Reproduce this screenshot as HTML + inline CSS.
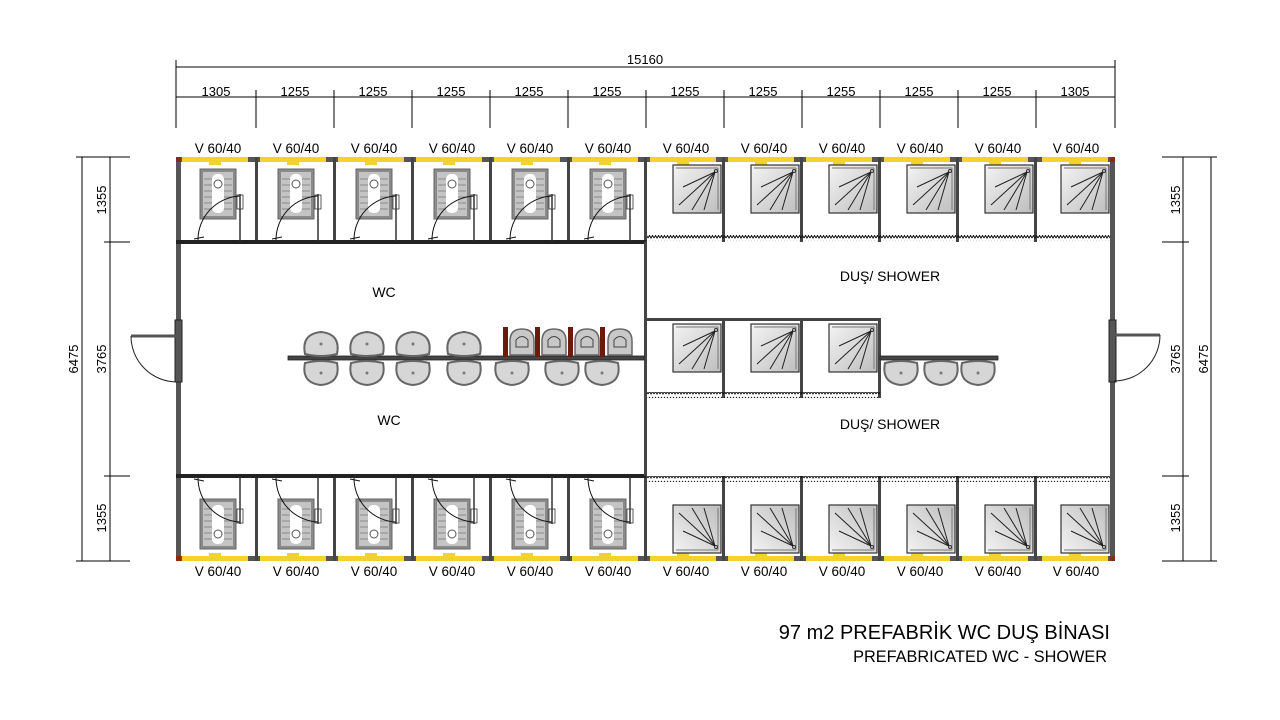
<!DOCTYPE html>
<html><head><meta charset="utf-8"><style>
html,body{margin:0;padding:0;background:#fff;}
svg{display:block;font-family:"Liberation Sans",sans-serif;}
</style></head><body>
<svg width="1280" height="720" viewBox="0 0 1280 720" xmlns="http://www.w3.org/2000/svg">
<defs>
<linearGradient id="sg" x1="0" y1="0" x2="1" y2="1"><stop offset="0" stop-color="#f4f4f4"/><stop offset="1" stop-color="#bdbdbd"/></linearGradient>
<pattern id="wv" width="6" height="6" patternUnits="userSpaceOnUse"><path d="M0 4 L1.5 1.5 L3 4 L4.5 1.5 L6 4" fill="none" stroke="#111" stroke-width="1"/></pattern>
<g id="win"><rect x="6" y="0" width="66" height="5" fill="#f2d22e"/><rect x="33" y="5" width="12" height="3" fill="#f2d22e"/></g>
<g id="toi">
<rect x="24" y="12" width="36" height="50" fill="#8a8a8a" stroke="#666"/>
<rect x="27" y="15" width="30" height="44" fill="#c4c4c4"/>
<g stroke="#8a8a8a" stroke-width="1"><line x1="28" y1="22" x2="56" y2="22"/><line x1="28" y1="28" x2="56" y2="28"/><line x1="28" y1="34" x2="56" y2="34"/><line x1="28" y1="40" x2="56" y2="40"/><line x1="28" y1="46" x2="56" y2="46"/><line x1="28" y1="52" x2="56" y2="52"/></g>
<rect x="36" y="17" width="12" height="39" rx="5" fill="#fff"/>
<circle cx="42" cy="27" r="4" fill="none" stroke="#555"/>
<path d="M22 83 A44 44 0 0 1 64 39" fill="none" stroke="#111" stroke-width="1"/>
<line x1="64" y1="37" x2="64" y2="84" stroke="#333" stroke-width="1.5"/>
<rect x="61" y="38" width="6" height="14" fill="none" stroke="#333" stroke-width="0.8"/>
<line x1="18" y1="82" x2="28" y2="80" stroke="#111"/>
</g>
<g id="sh">
<rect x="27" y="8" width="48" height="48" fill="url(#sg)" stroke="#333" stroke-width="1.2"/>
<line x1="30" y1="11" x2="72" y2="11" stroke="#777"/><line x1="72" y1="11" x2="72" y2="53" stroke="#777"/>
<circle cx="70" cy="14" r="1.5" fill="none" stroke="#333"/>
<g stroke="#222" stroke-width="1"><line x1="69" y1="15" x2="37" y2="30"/><line x1="69" y1="15" x2="33" y2="48"/><line x1="69" y1="15" x2="46" y2="53"/><line x1="69" y1="15" x2="58" y2="53"/></g>
</g>
<g id="sk"><path d="M-16 -10 Q0 -14 16 -10 Q20 10 0 12 Q-20 10 -16 -10Z" fill="#d6d6d6" stroke="#666" stroke-width="2"/><circle cx="0" cy="0" r="1.5" fill="#777"/></g>
<g id="ur"><path d="M-12 12 L-12 -2 Q-12 -14 0 -14 Q12 -14 12 -2 L12 12Z" fill="#c8c8c8" stroke="#666" stroke-width="1.5"/><path d="M-6 4 L-6 -3 Q0 -10 6 -3 L6 4Z" fill="none" stroke="#444"/></g>
</defs>

<g stroke="#000" stroke-width="1" fill="none">
<line x1="176" y1="67" x2="1115" y2="67"/>
<line x1="176" y1="60" x2="176" y2="128"/><line x1="1115" y1="60" x2="1115" y2="128"/>
<line x1="176" y1="97" x2="1115" y2="97"/>
<line x1="256" y1="90" x2="256" y2="128"/><line x1="334" y1="90" x2="334" y2="128"/><line x1="412" y1="90" x2="412" y2="128"/><line x1="490" y1="90" x2="490" y2="128"/><line x1="568" y1="90" x2="568" y2="128"/><line x1="646" y1="90" x2="646" y2="128"/><line x1="724" y1="90" x2="724" y2="128"/><line x1="802" y1="90" x2="802" y2="128"/><line x1="880" y1="90" x2="880" y2="128"/><line x1="958" y1="90" x2="958" y2="128"/><line x1="1036" y1="90" x2="1036" y2="128"/>
<line x1="82" y1="157" x2="82" y2="561"/><line x1="110" y1="157" x2="110" y2="561"/>
<line x1="76" y1="157" x2="130" y2="157"/><line x1="76" y1="561" x2="130" y2="561"/>
<line x1="104" y1="242" x2="130" y2="242"/><line x1="104" y1="476" x2="130" y2="476"/>
<line x1="1183" y1="157" x2="1183" y2="561"/><line x1="1211" y1="157" x2="1211" y2="561"/>
<line x1="1162" y1="157" x2="1217" y2="157"/><line x1="1162" y1="561" x2="1217" y2="561"/>
<line x1="1162" y1="242" x2="1189" y2="242"/><line x1="1162" y1="476" x2="1189" y2="476"/>
</g>
<g fill="#000" font-size="13" text-anchor="middle">
<text x="645" y="64">15160</text>
<text x="216" y="96">1305</text><text x="295" y="96">1255</text><text x="373" y="96">1255</text><text x="451" y="96">1255</text><text x="529" y="96">1255</text><text x="607" y="96">1255</text><text x="685" y="96">1255</text><text x="763" y="96">1255</text><text x="841" y="96">1255</text><text x="919" y="96">1255</text><text x="997" y="96">1255</text><text x="1075" y="96">1305</text>
<text transform="translate(106,200) rotate(-90)">1355</text>
<text transform="translate(106,359) rotate(-90)">3765</text>
<text transform="translate(106,518) rotate(-90)">1355</text>
<text transform="translate(78,359) rotate(-90)">6475</text>
<text transform="translate(1180,200) rotate(-90)">1355</text>
<text transform="translate(1180,359) rotate(-90)">3765</text>
<text transform="translate(1180,518) rotate(-90)">1355</text>
<text transform="translate(1208,359) rotate(-90)">6475</text>
</g>
<g font-size="13.5" text-anchor="middle">
<text x="218" y="153">V 60/40</text><text x="296" y="153">V 60/40</text><text x="374" y="153">V 60/40</text><text x="452" y="153">V 60/40</text><text x="530" y="153">V 60/40</text><text x="608" y="153">V 60/40</text><text x="686" y="153">V 60/40</text><text x="764" y="153">V 60/40</text><text x="842" y="153">V 60/40</text><text x="920" y="153">V 60/40</text><text x="998" y="153">V 60/40</text><text x="1076" y="153">V 60/40</text>
<text x="218" y="576">V 60/40</text><text x="296" y="576">V 60/40</text><text x="374" y="576">V 60/40</text><text x="452" y="576">V 60/40</text><text x="530" y="576">V 60/40</text><text x="608" y="576">V 60/40</text><text x="686" y="576">V 60/40</text><text x="764" y="576">V 60/40</text><text x="842" y="576">V 60/40</text><text x="920" y="576">V 60/40</text><text x="998" y="576">V 60/40</text><text x="1076" y="576">V 60/40</text>
</g>

<rect x="176" y="157" width="939" height="5" fill="#555"/>
<rect x="176" y="556" width="939" height="5" fill="#555"/>
<rect x="176" y="157" width="5" height="404" fill="#555"/>
<rect x="1110" y="157" width="5" height="404" fill="#555"/>
<rect x="176" y="157" width="5" height="5" fill="#8a2a10"/><rect x="1110" y="157" width="5" height="5" fill="#8a2a10"/>
<rect x="176" y="556" width="5" height="5" fill="#8a2a10"/><rect x="1110" y="556" width="5" height="5" fill="#8a2a10"/>

<g><use href="#win" x="176" y="157"/><use href="#win" x="254" y="157"/><use href="#win" x="332" y="157"/><use href="#win" x="410" y="157"/><use href="#win" x="488" y="157"/><use href="#win" x="566" y="157"/><use href="#win" x="644" y="157"/><use href="#win" x="722" y="157"/><use href="#win" x="800" y="157"/><use href="#win" x="878" y="157"/><use href="#win" x="956" y="157"/><use href="#win" x="1036" y="157"/></g>
<g transform="translate(0,718) scale(1,-1)"><use href="#win" x="176" y="157"/><use href="#win" x="254" y="157"/><use href="#win" x="332" y="157"/><use href="#win" x="410" y="157"/><use href="#win" x="488" y="157"/><use href="#win" x="566" y="157"/><use href="#win" x="644" y="157"/><use href="#win" x="722" y="157"/><use href="#win" x="800" y="157"/><use href="#win" x="878" y="157"/><use href="#win" x="956" y="157"/><use href="#win" x="1036" y="157"/></g>

<g fill="#444">
<rect x="255" y="157" width="3" height="85"/><rect x="333" y="157" width="3" height="85"/><rect x="411" y="157" width="3" height="85"/><rect x="489" y="157" width="3" height="85"/><rect x="567" y="157" width="3" height="85"/><rect x="644" y="157" width="3" height="85"/><rect x="722" y="157" width="3" height="85"/><rect x="800" y="157" width="3" height="85"/><rect x="878" y="157" width="3" height="85"/><rect x="956" y="157" width="3" height="85"/><rect x="1034" y="157" width="3" height="85"/>
<rect x="255" y="476" width="3" height="85"/><rect x="333" y="476" width="3" height="85"/><rect x="411" y="476" width="3" height="85"/><rect x="489" y="476" width="3" height="85"/><rect x="567" y="476" width="3" height="85"/><rect x="644" y="476" width="3" height="85"/><rect x="722" y="476" width="3" height="85"/><rect x="800" y="476" width="3" height="85"/><rect x="878" y="476" width="3" height="85"/><rect x="956" y="476" width="3" height="85"/><rect x="1034" y="476" width="3" height="85"/>
<rect x="176" y="240" width="470" height="4" fill="#222"/>
<rect x="176" y="474" width="470" height="4" fill="#222"/>
<rect x="644" y="242" width="3" height="234"/>
<rect x="646" y="318" width="235" height="3"/>
<rect x="722" y="318" width="3" height="80"/><rect x="800" y="318" width="3" height="80"/><rect x="878" y="318" width="3" height="80"/>
<rect x="288" y="356" width="356" height="4" stroke="#222" stroke-width="0.8"/>
<rect x="880" y="356" width="118" height="4" stroke="#222" stroke-width="0.8"/>
</g>
<rect x="647" y="235" width="463" height="6" fill="url(#wv)"/>
<rect x="647" y="476" width="463" height="6" fill="url(#wv)"/>
<rect x="647" y="392" width="233" height="6" fill="url(#wv)"/>

<use href="#toi" x="176" y="157"/><use href="#toi" x="254" y="157"/><use href="#toi" x="332" y="157"/><use href="#toi" x="410" y="157"/><use href="#toi" x="488" y="157"/><use href="#toi" x="566" y="157"/>
<g transform="translate(0,718) scale(1,-1)"><use href="#toi" x="176" y="157"/><use href="#toi" x="254" y="157"/><use href="#toi" x="332" y="157"/><use href="#toi" x="410" y="157"/><use href="#toi" x="488" y="157"/><use href="#toi" x="566" y="157"/></g>
<use href="#sh" x="646" y="157"/><use href="#sh" x="724" y="157"/><use href="#sh" x="802" y="157"/><use href="#sh" x="880" y="157"/><use href="#sh" x="958" y="157"/><use href="#sh" x="1034" y="157"/>
<g transform="translate(0,718) scale(1,-1)"><use href="#sh" x="646" y="157"/><use href="#sh" x="724" y="157"/><use href="#sh" x="802" y="157"/><use href="#sh" x="880" y="157"/><use href="#sh" x="958" y="157"/><use href="#sh" x="1034" y="157"/></g>
<use href="#sh" x="646" y="316"/><use href="#sh" x="724" y="316"/><use href="#sh" x="802" y="316"/>

<g transform="translate(0,700) scale(1,-1)"><use href="#sk" x="321" y="356"/><use href="#sk" x="367" y="356"/><use href="#sk" x="413" y="356"/><use href="#sk" x="464" y="356"/></g>
<use href="#sk" x="321" y="373"/><use href="#sk" x="367" y="373"/><use href="#sk" x="413" y="373"/><use href="#sk" x="464" y="373"/><use href="#sk" x="512" y="373"/><use href="#sk" x="562" y="373"/><use href="#sk" x="602" y="373"/>
<use href="#sk" x="901" y="373"/><use href="#sk" x="941" y="373"/><use href="#sk" x="978" y="373"/>
<g fill="#6b1a0c"><rect x="503" y="327" width="5" height="30"/><rect x="535" y="327" width="5" height="30"/><rect x="568" y="327" width="5" height="30"/><rect x="600" y="327" width="5" height="30"/></g>
<use href="#ur" x="522" y="343"/><use href="#ur" x="554" y="343"/><use href="#ur" x="587" y="343"/><use href="#ur" x="620" y="343"/>

<g stroke="#222" fill="none">
<rect x="175" y="320" width="7" height="62" fill="#555"/>
<line x1="131" y1="336" x2="178" y2="336" stroke-width="3" stroke="#555"/>
<path d="M131 336 A46 46 0 0 0 177 382"/>
<rect x="1109" y="320" width="7" height="62" fill="#555"/>
<line x1="1113" y1="335" x2="1160" y2="335" stroke-width="3" stroke="#555"/>
<path d="M1160 335 A46 46 0 0 1 1114 381"/>
</g>

<g font-size="14" text-anchor="middle">
<text x="384" y="297">WC</text><text x="389" y="425">WC</text>
<text x="890" y="281">DUŞ/ SHOWER</text><text x="890" y="429">DUŞ/ SHOWER</text>
</g>
<text x="1110" y="639" font-size="20" text-anchor="end">97 m2 PREFABRİK WC DUŞ BİNASI</text>
<text x="1107" y="662" font-size="16.3" text-anchor="end">PREFABRICATED WC - SHOWER</text>
</svg>
</body></html>
